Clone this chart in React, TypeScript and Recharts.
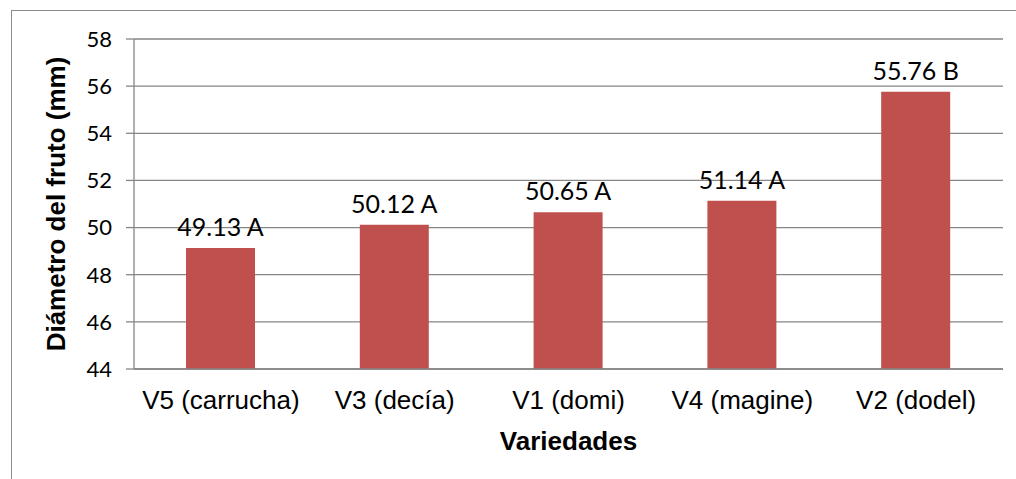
import * as React from 'react'
import {
    BarChart,
    Bar,
    XAxis,
    YAxis,
    CartesianGrid,
    LabelList,
    Label,
} from 'recharts'

const variedades = ['V5 (carrucha)', 'V3 (decía)', 'V1 (domi)', 'V4 (magine)', 'V2 (dodel)']
const diametros = [49.13, 50.12, 50.65, 51.14, 55.76]
const grupos = ['A', 'A', 'A', 'A', 'B']
const yTicks = [44, 46, 48, 50, 52, 54, 56, 58]

const data = variedades.map((name, i) => ({
    name,
    diametro: diametros[i],
    grupo: grupos[i],
}))

const GRID = '#868686'
const BAR = '#C0504D'

const renderYTitle = (props: any) => {
    const { viewBox } = props
    const cy = viewBox.y + viewBox.height / 2
    return (
        <text
            x={65}
            y={cy}
            transform={`rotate(-90, 65, ${cy})`}
            textAnchor="middle"
            fontFamily="'Liberation Sans', Arial, sans-serif"
            fontWeight="bold"
            fontSize={26}
            fill="#000"
        >
            Diámetro del fruto (mm)
        </text>
    )
}

const renderXTitle = (props: any) => {
    const { viewBox } = props
    return (
        <text
            x={viewBox.x + viewBox.width / 2}
            y={450}
            textAnchor="middle"
            fontFamily="'Liberation Sans', Arial, sans-serif"
            fontWeight="bold"
            fontSize={26}
            fill="#000"
        >
            Variedades
        </text>
    )
}

const renderValue = (props: any) => {
    const { x, y, width, index, value } = props
    return (
        <text
            x={x + width / 2}
            y={y - 12}
            textAnchor="middle"
            fontFamily="Lato, 'Open Sans', sans-serif"
            fontSize={25}
            fill="#000"
        >
            {`${Number(value).toFixed(2)} ${grupos[index]}`}
        </text>
    )
}

export default function App() {
    return (
        <div
            style={{
                position: 'absolute',
                left: 0,
                top: 0,
                width: 1016,
                height: 479,
                overflow: 'hidden',
                background: '#fff',
            }}
        >
            {/* chart frame, only its top and left edges fall inside the page */}
            <div
                style={{
                    position: 'absolute',
                    left: 11,
                    top: 10,
                    width: 1020,
                    height: 480,
                    border: '1px solid #8c8c8c',
                }}
            />
            <div style={{ position: 'absolute', left: 0, top: 0 }}>
                <BarChart
                    width={1016}
                    height={479}
                    data={data}
                    margin={{ top: 39, right: 13, bottom: 0, left: 0 }}
                >
                    <CartesianGrid vertical={false} stroke={GRID} strokeWidth={1.3} />
                    <XAxis
                        dataKey="name"
                        height={110}
                        tickLine={false}
                        tickSize={0}
                        tickMargin={22}
                        axisLine={{ stroke: GRID, strokeWidth: 1.3 }}
                        tick={{
                            fill: '#000',
                            fontSize: 26,
                            fontFamily: "'Liberation Sans', Arial, sans-serif",
                        }}
                        interval={0}
                    >
                        <Label content={renderXTitle} />
                    </XAxis>
                    <YAxis
                        width={134}
                        domain={[44, 58]}
                        ticks={yTicks}
                        allowDataOverflow
                        tickSize={8}
                        tickMargin={14}
                        tickLine={{ stroke: GRID, strokeWidth: 1.3 }}
                        axisLine={{ stroke: GRID, strokeWidth: 1.3 }}
                        tick={{
                            fill: '#000',
                            fontSize: 22,
                            fontFamily: "Lato, 'Open Sans', sans-serif",
                        }}
                    >
                        <Label content={renderYTitle} />
                    </YAxis>
                    <Bar dataKey="diametro" fill={BAR} barSize={69} isAnimationActive={false}>
                        <LabelList dataKey="diametro" content={renderValue} />
                    </Bar>
                </BarChart>
            </div>
        </div>
    )
}
